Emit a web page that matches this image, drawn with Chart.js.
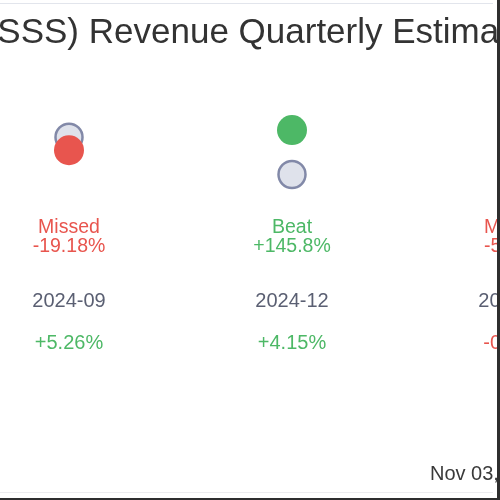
<!DOCTYPE html>
<html>
<head>
<meta charset="utf-8">
<script src="https://cdn.jsdelivr.net/npm/chart.js@4.4.1/dist/chart.umd.min.js"></script>
<style>
  html, body { margin:0; padding:0; background:#fff; }
  #wrap { position:absolute; left:0; top:0; width:497px; height:498px; overflow:hidden; background:#fff; }
  #cv { position:absolute; top:0; }
  .ln { position:absolute; }
</style>
</head>
<body>
<div id="wrap">
  <canvas id="cv"></canvas>
  <div class="ln" style="left:0;top:3px;width:493px;height:1px;background:#e2e5ec"></div>
  <div class="ln" style="left:0;top:492px;width:493px;height:1px;background:#ececef"></div>
</div>
<div class="ln" style="left:497px;top:0;width:3px;height:500px;background:#2e2e2e"></div>
<div class="ln" style="left:0;top:498px;width:500px;height:2px;background:#2e2e2e"></div>
<script>
// ---- data (revenue, $M) ----
const quarters   = ['2024-09', '2024-12', '2025-03'];
const estimates  = [1.60, 0.72, 0.75];
const actuals    = [1.293, 1.770, 0.357];
const surprise   = ['-19.18%', '+145.8%', '-52.4%'];
const growth     = ['+5.26%', '+4.15%', '-0.85%'];
const titleText  = 'SuRo Capital (SSSS) Revenue Quarterly Estimates vs Actual';
const dateText   = 'Nov 03, 2025';

const FONT = 'Arial, Helvetica, sans-serif';
const RED = '#e8554e', GREEN = '#4db866', GREY_TXT = '#5a5f72';

// ---- layout (page crop of a wider chart) ----
const CW = 1200, CH = 500;
const mctx = document.createElement('canvas').getContext('2d');
mctx.font = '35px ' + FONT;
const fullW = mctx.measureText(titleText).width;
const preW = mctx.measureText('SuRo Capital (S').width;
const L = Math.round(CW / 2 - fullW / 2 + preW + 3);  // canvas offset to the left
const COL0 = 69, STEP = 223;                            // visible column centres
const xMin = -(L + COL0) / STEP;
const xMax = xMin + CW / STEP;

const cv = document.getElementById('cv');
cv.width = CW; cv.height = CH;
cv.style.width = CW + 'px'; cv.style.height = CH + 'px';
cv.style.left = (-L) + 'px';

const beat = actuals.map((a, i) => a >= estimates[i]);

const labelsPlugin = {
  id: 'labels',
  afterDatasetsDraw(chart) {
    const c = chart.ctx, xs = chart.scales.x;
    c.save();
    c.textAlign = 'center';
    c.textBaseline = 'middle';
    quarters.forEach((q, i) => {
      const x = xs.getPixelForValue(i);
      const col = beat[i] ? GREEN : RED;
      c.font = '19.5px ' + FONT;
      c.fillStyle = col;
      c.fillText(beat[i] ? 'Beat' : 'Missed', x, 227.5);
      c.fillText(surprise[i], x, 246.5);
      c.font = '20px ' + FONT;
      c.fillStyle = GREY_TXT;
      c.fillText(q, x, 301);
      c.fillStyle = growth[i].startsWith('-') ? RED : GREEN;
      c.fillText(growth[i], x, 343);
    });
    c.textAlign = 'left';
    c.fillStyle = '#3a3a3a';
    c.font = '20px ' + FONT;
    c.fillText(dateText, L + 430, 474);
    c.restore();
  }
};

new Chart(cv, {
  type: 'scatter',
  data: {
    datasets: [
      {
        label: 'Actual',
        data: actuals.map((v, i) => ({ x: i, y: v })),
        pointRadius: 15,
        pointBorderWidth: 0,
        pointBackgroundColor: beat.map(b => b ? GREEN : RED),
        pointBorderColor: beat.map(b => b ? GREEN : RED)
      },
      {
        label: 'Estimate',
        data: estimates.map((v, i) => ({ x: i, y: v })),
        pointRadius: 13.5,
        pointBorderWidth: 2.5,
        pointBackgroundColor: '#dfe2eb',
        pointBorderColor: '#8289a8'
      }
    ]
  },
  options: {
    responsive: false,
    animation: false,
    devicePixelRatio: 1,
    layout: { autoPadding: false, padding: { left: 0, right: 0, top: 0, bottom: 295 } },
    scales: {
      x: { type: 'linear', min: xMin, max: xMax, display: false },
      y: { type: 'linear', min: 0, max: 3.4, display: false }
    },
    plugins: {
      legend: { display: false },
      tooltip: { enabled: false },
      title: {
        display: true,
        text: titleText,
        color: '#333333',
        font: { family: FONT, size: 35, weight: 'normal' },
        padding: { top: 12, bottom: 7 }
      }
    }
  },
  plugins: [labelsPlugin]
});
</script>
</body>
</html>
